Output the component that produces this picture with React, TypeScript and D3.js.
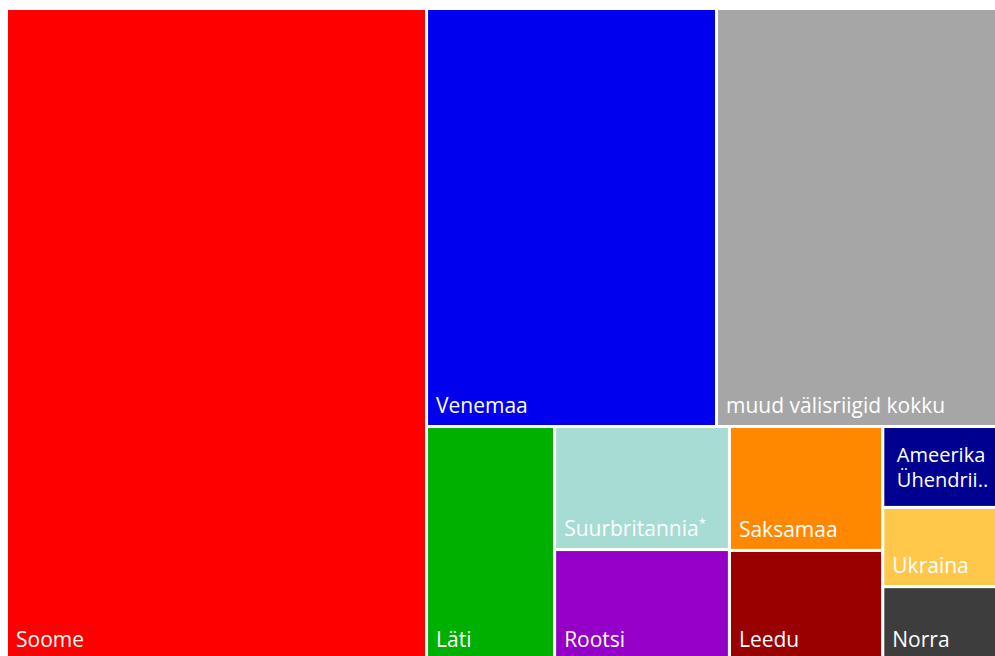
import React, { useEffect, useRef } from "react";
import * as d3 from "d3";

// visits by country of residence (thousands)
const countries = [
  "Soome", "Venemaa", "muud välisriigid kokku", "Läti", "Suurbritannia", "Rootsi",
  "Saksamaa", "Leedu", "Ameerika Ühendriigid", "Ukraina", "Norra",
];
const values = [273.6, 121.2, 119.1, 29.9, 21.5, 19.3, 19.0, 16.8, 9.6, 9.4, 8.7];
const labels = [
  ["Soome"], ["Venemaa"], ["muud välisriigid kokku"], ["Läti"], ["Suurbritannia*"], ["Rootsi"],
  ["Saksamaa"], ["Leedu"], ["Ameerika", "Ühendrii.."], ["Ukraina"], ["Norra"],
];
const colors = [
  "#ff0000", "#0000ee", "#a6a6a6", "#00b000", "#a6dcd4", "#9400c8",
  "#ff8800", "#990000", "#000090", "#ffc84a", "#3d3d3d",
];
// how the blocks are grouped in the layout
const groupPath = [
  [], ["rest", "top"], ["rest", "top"], ["rest", "bottom", "c1"], ["rest", "bottom", "c2"],
  ["rest", "bottom", "c2"], ["rest", "bottom", "c3"], ["rest", "bottom", "c3"],
  ["rest", "bottom", "c4"], ["rest", "bottom", "c4"], ["rest", "bottom", "c4"],
];

type TNode = { name: string; value?: number; idx?: number; children?: TNode[] };

export default function App() {
  const ref = useRef<SVGSVGElement>(null);

  useEffect(() => {
    const svg = d3.select(ref.current);
    svg.selectAll("*").remove();

    const tree: TNode = { name: "root", children: [] };
    countries.forEach((c, i) => {
      let node = tree;
      groupPath[i].forEach((g) => {
        let next = node.children!.find((n) => n.name === g);
        if (!next) {
          next = { name: g, children: [] };
          node.children!.push(next);
        }
        node = next;
      });
      node.children!.push({ name: c, value: values[i], idx: i });
    });

    const width = 995;
    const height = 651.5;
    const root = d3.hierarchy<TNode>(tree).sum((d) => d.value ?? 0);
    d3.treemap<TNode>().tile(d3.treemapSliceDice).size([width, height])(root);

    const g = svg.append("g").attr("transform", "translate(6.5,8.5)");
    const leaf = g.selectAll("g.leaf").data(root.leaves()).join("g").attr("class", "leaf");

    leaf.append("rect")
      .attr("x", (d: any) => d.x0)
      .attr("y", (d: any) => d.y0)
      .attr("width", (d: any) => d.x1 - d.x0)
      .attr("height", (d: any) => d.y1 - d.y0)
      .attr("fill", (d) => colors[d.data.idx!])
      .attr("stroke", "#fff")
      .attr("stroke-width", 3);

    leaf.each(function (d: any) {
      const lines = labels[d.data.idx!];
      const multi = lines.length > 1;
      const text = d3.select(this).append("text")
        .attr("fill", "#fff")
        .attr("font-family", "'Open Sans', sans-serif")
        .attr("font-size", multi ? 20 : 21);
      lines.forEach((line, j) => {
        const x = d.x0 + (multi ? 14 : 9.5);
        const y = d.y1 - (multi ? 20 : 13.5) - 25 * (lines.length - 1 - j);
        if (line.endsWith("*")) {
          const t = text.append("tspan").attr("x", x).attr("y", y).text(line.slice(0, -1));
          t.append("tspan").attr("font-size", 13).attr("dy", -8).text("*");
        } else {
          text.append("tspan").attr("x", x).attr("y", y).text(line);
        }
      });
    });
  }, []);

  return (
    <svg
      ref={ref}
      width={995}
      height={656}
      style={{ position: "absolute", left: 0, top: 0, background: "#fff" }}
    />
  );
}
